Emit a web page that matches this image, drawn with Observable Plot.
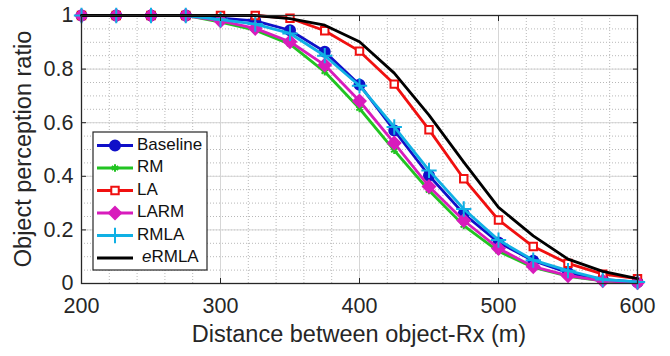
<!DOCTYPE html>
<html><head><meta charset="utf-8">
<script src="https://cdn.jsdelivr.net/npm/d3@7"></script>
<script src="https://cdn.jsdelivr.net/npm/@observablehq/plot@0.6"></script>
<style>body{margin:0;background:#fff;} #chart{width:670px;height:356px;overflow:hidden;}</style>
</head><body><div id="chart"></div>
<script>
// ---- data ----
const distance = [200,225,250,275,300,325,350,375,400,425,450,475,500,525,550,575,600];
const baseline = [1,1,1,1,0.99,0.98,0.945,0.865,0.742,0.571,0.403,0.26,0.153,0.085,0.04,0.015,0.005];
const rm       = [1,1,1,1,0.975,0.945,0.893,0.79,0.653,0.497,0.347,0.216,0.12,0.06,0.027,0.01,0.003];
const la       = [1,1,1,1,1,1,0.99,0.943,0.867,0.744,0.574,0.391,0.237,0.138,0.075,0.035,0.018];
const larm     = [1,1,1,1,0.98,0.952,0.902,0.815,0.681,0.524,0.362,0.235,0.131,0.063,0.029,0.01,0.003];
const rmla     = [1,1,1,1,0.985,0.968,0.933,0.85,0.738,0.584,0.422,0.278,0.162,0.087,0.048,0.015,0.006];
const ermla    = [1,1,1,1,1,1,0.988,0.964,0.902,0.785,0.628,0.453,0.284,0.178,0.091,0.045,0.018];
const seriesNames = ["Baseline","RM","LA","LARM","RMLA","eRMLA"];
const seriesValues = [baseline, rm, la, larm, rmla, ermla];
const xTicks = [200,300,400,500,600];
const yTicks = [0,0.2,0.4,0.6,0.8,1];
const yTickLabels = ["0","0.2","0.4","0.6","0.8","1"];
const xLabel = "Distance between object-Rx (m)";
const yLabel = "Object perception ratio";

// ---- styles ----
const colors = ["#1010c8","#22c422","#f01010","#d81cbc","#10b0e4","#000000"];
const symbols = ["circle","asterisk","square","diamond2","plus",null];
const fills = ["#1010c8","none","white","#d81cbc","none",null];
const radii = [5,3.5,4.2,5.5,5,0];

const rows = [];
seriesValues.forEach((vals,i)=>vals.forEach((v,j)=>rows.push({series:seriesNames[i], x:distance[j], y:v})));

const marks = [
  Plot.gridX(d3.range(200,601,20), {stroke:"#b8b8b8", strokeOpacity:1, strokeDasharray:"1,2"}),
  Plot.gridY(d3.range(0,1.0001,0.05), {stroke:"#b8b8b8", strokeOpacity:1, strokeDasharray:"1,2"}),
  Plot.gridX(xTicks, {stroke:"#d6d6d6", strokeOpacity:1}),
  Plot.gridY(yTicks, {stroke:"#d6d6d6", strokeOpacity:1}),
];
seriesNames.forEach((name,i)=>{
  const data = rows.filter(r=>r.series===name);
  marks.push(Plot.line(data, {x:"x", y:"y", stroke:colors[i], strokeWidth:2.8}));
  if (symbols[i]) marks.push(Plot.dot(data, {x:"x", y:"y", symbol:()=>symbols[i], r:radii[i], stroke:colors[i], fill:fills[i], strokeWidth:2}));
});
marks.push(
  Plot.frame({stroke:"#262626", strokeWidth:1.3}),
  Plot.axisX({anchor:"bottom", ticks:xTicks, tickSize:0, tickPadding:14, label:null}),
  Plot.axisY({anchor:"left", ticks:yTicks, tickSize:0, tickPadding:8, label:null, tickFormat:d=>yTickLabels[yTicks.indexOf(d)]}),
  Plot.axisX({anchor:"bottom", ticks:xTicks, tickSize:-5, tickFormat:()=>"", label:null}),
  Plot.axisX({anchor:"top", ticks:xTicks, tickSize:-5, tickFormat:()=>"", label:null}),
  Plot.axisY({anchor:"left", ticks:yTicks, tickSize:-5, tickFormat:()=>"", label:null}),
  Plot.axisY({anchor:"right", ticks:yTicks, tickSize:-5, tickFormat:()=>"", label:null})
);

const chart = Plot.plot({
  width:670, height:356, marginLeft:81, marginRight:33, marginTop:15, marginBottom:73,
  x:{domain:[200,600]}, y:{domain:[0,1]},
  style:{fontFamily:"'Liberation Sans', Arial, sans-serif", fontSize:"21.5px", color:"#262626", background:"white"},
  marks
});
document.getElementById("chart").appendChild(chart);

// axis labels
const svg = d3.select(chart);
svg.append("text").attr("x",359).attr("y",336).attr("text-anchor","middle").attr("dominant-baseline","middle")
  .attr("font-size",23.5).attr("fill","#262626").text(xLabel);
svg.append("text").attr("transform","translate(25,149) rotate(-90)").attr("text-anchor","middle").attr("dominant-baseline","middle")
  .attr("font-size",23.5).attr("fill","#262626").text(yLabel);

// legend
const lg = svg.append("g");
lg.append("rect").attr("x",93).attr("y",132).attr("width",114).attr("height",138).attr("fill","white").attr("stroke","#262626").attr("stroke-width",1.2);
const symMap = {circle:d3.symbolCircle, asterisk:d3.symbolAsterisk, square:d3.symbolSquare, diamond2:d3.symbolDiamond2, plus:d3.symbolPlus};
seriesNames.forEach((name,i)=>{
  const y = 145.5 + i*22.5;
  lg.append("line").attr("x1",97).attr("x2",133).attr("y1",y).attr("y2",y).attr("stroke",colors[i]).attr("stroke-width",2.8);
  if (symbols[i]) {
    lg.append("path").attr("transform",`translate(115,${y})`)
      .attr("d", d3.symbol(symMap[symbols[i]], Math.PI*radii[i]*radii[i])())
      .attr("stroke",colors[i]).attr("stroke-width",2).attr("fill",fills[i]);
  }
  const t = lg.append("text").attr("x", i===5?142:137).attr("y",y)
    .attr("text-anchor","start").attr("dominant-baseline","middle")
    .attr("font-size",17).attr("font-family","'Liberation Sans', Arial, sans-serif").attr("fill","#111");
  if (name==="eRMLA") { t.append("tspan").attr("font-style","italic").text("e"); t.append("tspan").text("RMLA"); }
  else t.text(name);
});
</script>
</body></html>
